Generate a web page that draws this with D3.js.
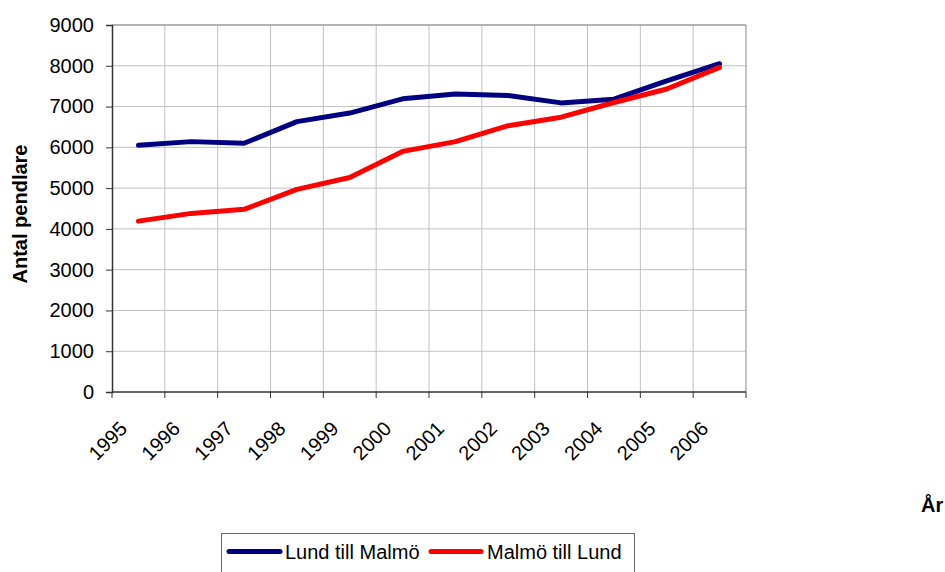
<!DOCTYPE html>
<html><head><meta charset="utf-8">
<script src="https://cdn.jsdelivr.net/npm/d3@7"></script>
<style>
html,body{margin:0;padding:0;background:#fff;}
svg{display:block;font-family:"Liberation Sans",Arial,sans-serif;}
</style></head>
<body><svg id="c" width="945" height="572"></svg>
<script>
const years = ["1995","1996","1997","1998","1999","2000","2001","2002","2003","2004","2005","2006"];
const lundTillMalmo = [6050,6140,6100,6630,6840,7190,7310,7270,7090,7180,7630,8050];
const malmoTillLund = [4190,4380,4480,4970,5260,5900,6140,6530,6740,7100,7430,7960];
const yTicks = [0,1000,2000,3000,4000,5000,6000,7000,8000,9000];
const seriesNames = ["Lund till Malmö","Malmö till Lund"];
const seriesColors = ["#000080","#ff0000"];

const svg = d3.select("#c");
const L=112, R=746, T=25, B=392;
const x = d3.scaleBand().domain(years).range([L,R]).paddingInner(0).paddingOuter(0);
const y = d3.scaleLinear().domain([0,9000]).range([B,T]);
const bw = x.bandwidth();
const cx = d => x(d)+bw/2;

// horizontal gridlines
svg.append("g").selectAll("line").data(yTicks.filter(v=>v>0)).join("line")
  .attr("x1",L).attr("x2",R).attr("y1",d=>y(d)).attr("y2",d=>y(d))
  .attr("stroke","#c0c0c0").attr("stroke-width",1);
// vertical gridlines at category boundaries
const bounds = years.map(d=>x(d)).concat([x.range()[1]]);
svg.append("g").selectAll("line").data(bounds.slice(1,-1)).join("line")
  .attr("x1",d=>d).attr("x2",d=>d).attr("y1",T).attr("y2",B)
  .attr("stroke","#c0c0c0").attr("stroke-width",1);
// border top/right
svg.append("line").attr("x1",L).attr("x2",R).attr("y1",T).attr("y2",T).attr("stroke","#888").attr("stroke-width",1);
svg.append("line").attr("x1",R).attr("x2",R).attr("y1",T).attr("y2",B).attr("stroke","#888").attr("stroke-width",1);

// y axis
const ya = svg.append("g").attr("transform",`translate(${L},0)`)
  .call(d3.axisLeft(y).tickValues(yTicks).tickSize(6).tickPadding(12).tickFormat(d3.format("d")));
ya.select(".domain").attr("stroke","#333").attr("stroke-width",1.5);
ya.selectAll(".tick line").attr("stroke","#333");
ya.selectAll("text").attr("font-size",20).attr("fill","#000").attr("font-family","Liberation Sans, Arial, sans-serif");

// x axis line and ticks
svg.append("line").attr("x1",L).attr("x2",R).attr("y1",B).attr("y2",B).attr("stroke","#333").attr("stroke-width",1.5);
svg.append("g").selectAll("line").data(bounds).join("line")
  .attr("x1",d=>d).attr("x2",d=>d).attr("y1",B).attr("y2",B+6).attr("stroke","#333");
svg.append("g").selectAll("text").data(years).join("text")
  .attr("transform",d=>`translate(${cx(d)-10},${B+38}) rotate(-45)`)
  .attr("text-anchor","end").attr("font-size",20).attr("fill","#000").text(d=>d);

// lines
const line = d3.line().x((v,i)=>cx(years[i])).y(v=>y(v));
[lundTillMalmo, malmoTillLund].forEach((s,i)=>{
  svg.append("path").attr("d",line(s)).attr("fill","none")
    .attr("stroke",seriesColors[i]).attr("stroke-width",5)
    .attr("stroke-linejoin","round").attr("stroke-linecap","round");
});

// y label
svg.append("text").attr("transform","translate(27,214) rotate(-90)")
  .attr("text-anchor","middle").attr("font-size",20).attr("font-weight","bold").text("Antal pendlare");
// x label
svg.append("text").attr("x",921).attr("y",512).attr("font-size",20).attr("font-weight","bold").text("År");

// legend
const lg = svg.append("g");
lg.append("rect").attr("x",221.5).attr("y",533.5).attr("width",413).attr("height",50)
  .attr("fill","#fff").attr("stroke","#666").attr("stroke-width",1);
const items = [{x1:229,x2:280,tx:285},{x1:431,x2:481,tx:487}];
items.forEach((it,i)=>{
  lg.append("line").attr("x1",it.x1).attr("x2",it.x2).attr("y1",551.5).attr("y2",551.5)
    .attr("stroke",seriesColors[i]).attr("stroke-width",5).attr("stroke-linecap","round");
  lg.append("text").attr("x",it.tx).attr("y",551.5).attr("dy","0.35em").attr("font-size",20).text(seriesNames[i]);
});
</script></body></html>
